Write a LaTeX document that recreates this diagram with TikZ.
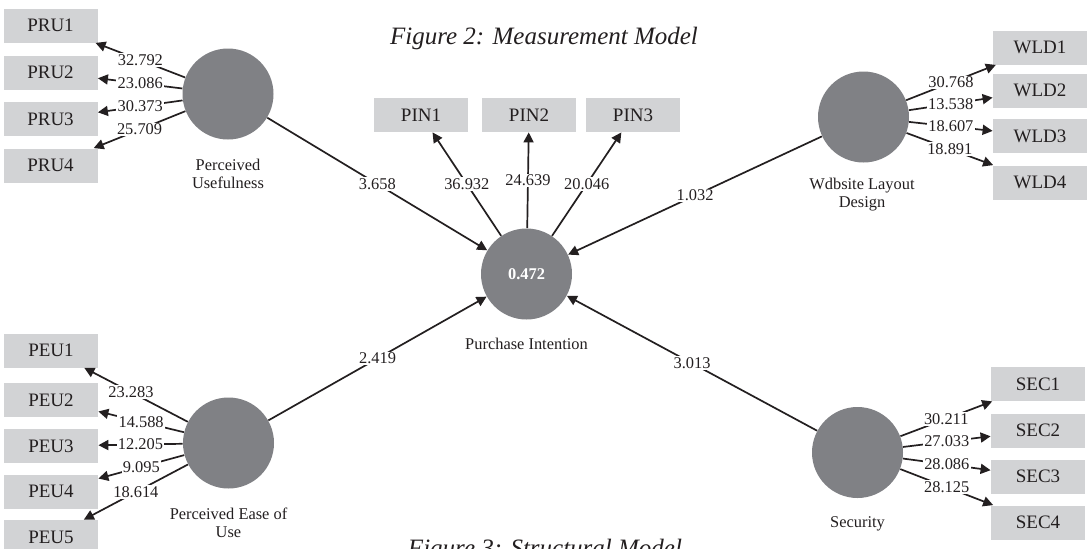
\documentclass[tikz,border=0pt]{standalone}
\usepackage{fontspec}
\setmainfont{Liberation Serif}
\usetikzlibrary{arrows.meta}
\definecolor{boxgray}{RGB}{210,211,213}
\definecolor{circgray}{RGB}{128,129,133}
\definecolor{inkc}{RGB}{35,31,32}
\begin{document}
\begin{tikzpicture}[x=0.5pt,y=-0.5pt,
  ind/.style={rectangle, fill=boxgray, minimum width=47pt, minimum height=17pt, inner sep=0pt, text=inkc, font=\fontsize{9.5}{11}\selectfont},
  lat/.style={circle, fill=circgray, minimum size=45.5pt, inner sep=0pt},
  val/.style={fill=white, inner sep=0.6pt, text=inkc, font=\fontsize{8.2}{9}\selectfont},
  latlabel/.style={anchor=north, align=center, inner sep=0pt, text=inkc, font=\fontsize{8.2}{9}\selectfont},
  arr/.style={draw=inkc, line width=0.85pt, -{Triangle[length=5pt,width=5pt]}},
  figcap/.style={anchor=base, text=inkc, font=\fontsize{12.5}{14}\selectfont\itshape}
]
\useasboundingbox (0,0) rectangle (1088,548);
\clip (0,0) rectangle (1088,548);
\fill[white] (0,0) rectangle (1088,548);

% titles
\node[figcap] (t1) at (544,44) {Figure 2: Measurement Model};
\node[figcap] (t2) at (545,556) {Figure 3: Structural Model};

% latent variables
\node[lat] (pru) at (228,94) {};
\node[lat] (peu) at (228.5,443) {};
\node[lat] (pi) at (526.5,274) {};
\node[lat] (wld) at (863.5,117) {};
\node[lat] (sec) at (857.5,452.5) {};
\node[font=\fontsize{8.2}{9}\selectfont\bfseries, text=white] (piv) at (pi) {0.472};

\node[latlabel] (prul) at (228,158.5) {Perceived\\Usefulness};
\node[latlabel] (peul) at (228.5,507.5) {Perceived Ease of\\Use};
\node[latlabel] (pil) at (526.5,337.5) {Purchase Intention};
\node[latlabel] (wldl) at (862,178) {Wdbsite Layout\\Design};
\node[latlabel] (secl) at (857.5,516) {Security};

% indicators
\node[ind] (pru1) at (50.5,25.5) {PRU1};
\node[ind] (pru2) at (50.5,72.5) {PRU2};
\node[ind] (pru3) at (50.5,119) {PRU3};
\node[ind] (pru4) at (50.5,165.5) {PRU4};

\node[ind] (peu1) at (51,350.5) {PEU1};
\node[ind] (peu2) at (51,400) {PEU2};
\node[ind] (peu3) at (51,446) {PEU3};
\node[ind] (peu4) at (51,491.5) {PEU4};
\node[ind] (peu5) at (51,537) {PEU5};

\node[ind] (pin1) at (421,115) {PIN1};
\node[ind] (pin2) at (529,115) {PIN2};
\node[ind] (pin3) at (633,115) {PIN3};

\node[ind] (wld1) at (1040,47.5) {WLD1};
\node[ind] (wld2) at (1040,90.5) {WLD2};
\node[ind] (wld3) at (1040,136) {WLD3};
\node[ind] (wld4) at (1040,182.5) {WLD4};

\node[ind] (sec1) at (1038,384) {SEC1};
\node[ind] (sec2) at (1038,430.5) {SEC2};
\node[ind] (sec3) at (1038,476.5) {SEC3};
\node[ind] (sec4) at (1038,522.5) {SEC4};

% measurement arrows
\draw[arr] (pru) -- node[val] {32.792} (pru1);
\draw[arr] (pru) -- node[val] {23.086} (pru2);
\draw[arr] (pru) -- node[val] {30.373} (pru3);
\draw[arr] (pru) -- node[val] {25.709} (pru4);

\draw[arr] (peu) -- node[val, pos=0.55] {23.283} (peu1);
\draw[arr] (peu) -- node[val] {14.588} (peu2);
\draw[arr] (peu) -- node[val] {12.205} (peu3);
\draw[arr] (peu) -- node[val] {9.095} (peu4);
\draw[arr] (peu) -- node[val] {18.614} (peu5);

\draw[arr] (pi) -- node[val] {36.932} (pin1);
\draw[arr] (pi) -- node[val] {24.639} (pin2);
\draw[arr] (pi) -- node[val] {20.046} (pin3);

\draw[arr] (wld) -- node[val] {30.768} (wld1);
\draw[arr] (wld) -- node[val] {13.538} (wld2);
\draw[arr] (wld) -- node[val] {18.607} (wld3);
\draw[arr] (wld) -- node[val] {18.891} (wld4);

\draw[arr] (sec) -- node[val] {30.211} (sec1);
\draw[arr] (sec) -- node[val] {27.033} (sec2);
\draw[arr] (sec) -- node[val] {28.086} (sec3);
\draw[arr] (sec) -- node[val] {28.125} (sec4);

% structural arrows
\draw[arr] (pru) -- node[val] {3.658} (pi);
\draw[arr] (wld) -- node[val] {1.032} (pi);
\draw[arr] (peu) -- node[val] {2.419} (pi);
\draw[arr] (sec) -- node[val] {3.013} (pi);
\end{tikzpicture}
\end{document}
